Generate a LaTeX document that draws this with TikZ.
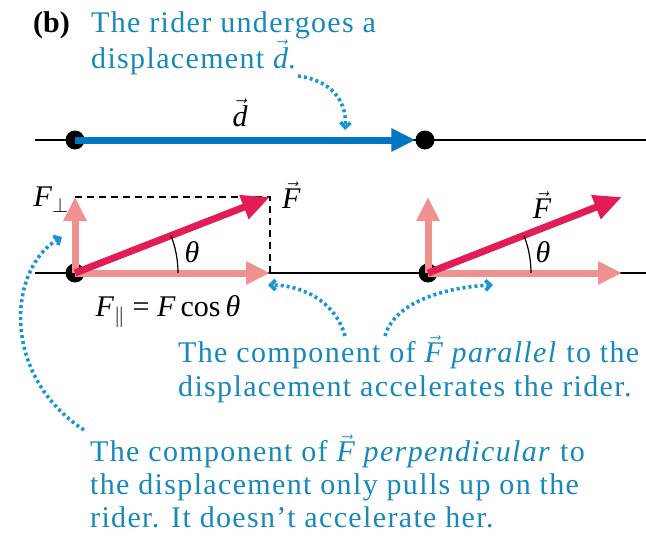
\documentclass[tikz,border=0pt]{standalone}
\usepackage{fontspec}
\setmainfont{Liberation Serif}
\usetikzlibrary{arrows.meta}
\definecolor{captxt}{RGB}{22,136,186}
\definecolor{dispblue}{RGB}{0,118,192}
\definecolor{dotblue}{RGB}{25,150,205}
\definecolor{forcered}{RGB}{226,28,84}
\definecolor{comppink}{RGB}{240,145,145}
\newcommand{\vecF}{$\vec{\textit{F}}$}
\newcommand{\vecd}{$\vec{\textit{d}}$}
\tikzset{
  captext/.style={anchor=base west, inner sep=0pt, text=captxt, font=\fontsize{30}{34}\selectfont\addfontfeatures{LetterSpace=4.5}},
  lbl/.style={inner sep=0pt, font=\fontsize{30}{34}\selectfont},
  axisline/.style={line width=1.6pt, black},
  ptdot/.style={circle, fill=black, minimum size=19pt, inner sep=0pt},
  disparrow/.style={line width=7pt, dispblue, -{Triangle[length=24pt,width=22pt]}},
  forcearrow/.style={line width=7pt, forcered, -{Triangle[length=28pt,width=24pt]}},
  comparrow/.style={line width=7pt, comppink, -{Triangle[length=24pt,width=22pt]}},
  pointer/.style={line width=3.6pt, dotblue, dash pattern=on 3pt off 3pt, -{Straight Barb[length=5pt,width=10pt]}},
  helper/.style={line width=1.4pt, black, dash pattern=on 7pt off 5pt},
}
\begin{document}
\begin{tikzpicture}[x=1pt,y=-1pt]
\useasboundingbox (0,0) rectangle (646,538);
% caption top
\node[anchor=base west, inner sep=0pt, font=\fontsize{30}{34}\selectfont\bfseries] (b) at (33,32) {(b)};
\node[captext] (t1a) at (91,32) {The rider undergoes a};
\node[captext] (t1b) at (91,68) {displacement \vecd.};
% top line
\coordinate (tl0) at (35,140);
\coordinate (tl1) at (646,140);
\draw[axisline] (tl0) -- (tl1);
\node[ptdot] (d0) at (75,140) {};
\node[ptdot] (d1) at (425,140) {};
\draw[disparrow] (d0.center) -- (d1.west);
\node[lbl] (dlab) at (240,113) {\vecd};
% pointer 1
\coordinate (p1s) at (298,76);
\coordinate (p1e) at (345,130);
\draw[pointer] (p1s) .. controls (330,80) and (347,100) .. (p1e);
% middle line
\coordinate (ml0) at (35,273);
\coordinate (ml1) at (646,273);
\draw[axisline] (ml0) -- (ml1);
% left figure
\node[ptdot] (L) at (75,273) {};
\coordinate (Ltip) at (270,197);
\coordinate (Lperp) at (75,197);
\coordinate (Lpar) at (270,273);
\draw[helper] (Lperp) -- (Ltip) -- (Lpar);
\draw[comparrow] (L.center) -- (Lperp);
\draw[comparrow] (L.center) -- (Lpar);
\draw[forcearrow] (L.center) -- (Ltip);
\draw[line width=1.2pt] ([shift={(0:103)}]L.center) arc[start angle=0,end angle=-21.3,radius=103];
\node[lbl] (thL) at (192,252) {\textit{θ}};
\node[lbl, anchor=east] (Fperp) at (69,200) {\textit{F}$_{\perp}$};
\node[lbl, anchor=west] (FL) at (282,195) {\vecF};
\node[lbl, anchor=base] (Fpar) at (168,316) {\textit{F}$_{\parallel}$ = \textit{F}\,cos\,\textit{θ}};
% right figure
\node[ptdot] (R) at (428,273) {};
\coordinate (Rtip) at (622,197);
\coordinate (Rperp) at (428,197);
\coordinate (Rpar) at (622,273);
\draw[comparrow] (R.center) -- (Rperp);
\draw[comparrow] (R.center) -- (Rpar);
\draw[forcearrow] (R.center) -- (Rtip);
\draw[line width=1.2pt] ([shift={(0:103)}]R.center) arc[start angle=0,end angle=-21.3,radius=103];
\node[lbl] (thR) at (543,252) {\textit{θ}};
\node[lbl] (FR) at (542,205) {\vecF};
% caption parallel
\node[captext] (t2a) at (178,362) {The component of \vecF{} \textit{parallel} to the};
\node[captext] (t2b) at (178,396) {displacement accelerates the rider.};
% caption perpendicular
\node[captext] (t3a) at (90,461) {The component of \vecF{} \textit{perpendicular} to};
\node[captext] (t3b) at (90,494) {the displacement only pulls up on the};
\node[captext] (t3c) at (90,527) {rider. It doesn’t accelerate her.};
% pointers
\coordinate (p2s) at (345,336);
\coordinate (p2e) at (268,285);
\draw[pointer] (p2s) .. controls (335,300) and (300,285) .. (p2e);
\coordinate (p3s) at (385,336);
\coordinate (p3e) at (493,285);
\draw[pointer] (p3s) .. controls (395,300) and (450,287) .. (p3e);
\coordinate (p4s) at (84,430);
\coordinate (p4e) at (62,237);
\draw[pointer] (p4s) .. controls (0,375) and (8,268) .. (p4e);
\end{tikzpicture}
\end{document}
